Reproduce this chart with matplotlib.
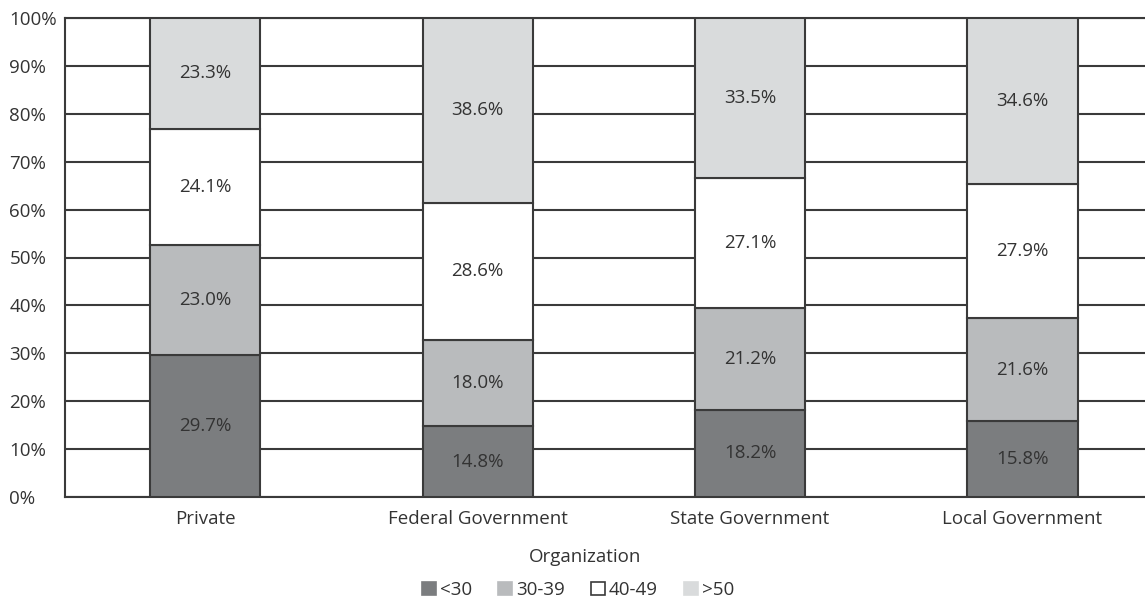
import numpy as np
import matplotlib.pyplot as plt
from matplotlib.patches import Patch

plt.rcParams['font.family'] = ['Open Sans', 'DejaVu Sans']

categories = ["Private", "Federal Government", "State Government", "Local Government"]
age_groups = ["<30", "30-39", "40-49", ">50"]
under_30 = [29.7, 14.8, 18.2, 15.8]
age_30_39 = [23.0, 18.0, 21.2, 21.6]
age_40_49 = [24.1, 28.6, 27.1, 27.9]
over_50 = [23.3, 38.6, 33.5, 34.6]

series = [under_30, age_30_39, age_40_49, over_50]
colors = ["#7b7d7f", "#b9bbbd", "#ffffff", "#d9dbdc"]
edge = "#3a3a3a"
text_color = "#333333"
fs = 13.5

fig = plt.figure(figsize=(11.45, 6.01), dpi=100)
ax = fig.add_axes([65 / 1145, 104 / 601, 1 - 65 / 1145, (497 - 18) / 601])

x = np.arange(len(categories))
width = 0.405
bottom = np.zeros(len(categories))
for vals, col in zip(series, colors):
    vals = np.array(vals)
    ax.bar(x, vals, width, bottom=bottom, color=col, edgecolor=edge,
           linewidth=1.5, zorder=3)
    for xi, b, v in zip(x, bottom, vals):
        ax.text(xi, b + v / 2, f"{v:.1f}%", ha="center", va="center",
                fontsize=fs, color=text_color, zorder=4)
    bottom += vals

# horizontal grid lines behind the bars
ax.set_ylim(0, 100)
ax.set_xlim(-0.515, 3.45)
ax.set_yticks(np.arange(0, 101, 10))
ax.set_yticklabels([f"{t}%" for t in range(0, 101, 10)])
ax.yaxis.grid(True, color=edge, linewidth=1.5, zorder=0)
ax.set_axisbelow(True)
for lab in ax.get_yticklabels():
    lab.set_horizontalalignment("left")
ax.tick_params(axis="y", length=0, pad=40, labelsize=fs, labelcolor=text_color)
ax.tick_params(axis="x", length=0, pad=9, labelsize=fs, labelcolor=text_color)
ax.set_xticks(x)
ax.set_xticklabels(categories)

ax.spines["right"].set_visible(False)
for side in ["left", "top", "bottom"]:
    ax.spines[side].set_color(edge)
    ax.spines[side].set_linewidth(1.5)

fig.text(585 / 1145, 1 - 557 / 601, "Organization", ha="center", va="center",
         fontsize=fs, color=text_color)
handles = [Patch(facecolor=c, edgecolor=(edge if c == "#ffffff" else c), linewidth=1.2)
           for c in colors]
fig.legend(handles, age_groups, loc="center", bbox_to_anchor=(578 / 1145, 1 - 590 / 601),
           ncol=4, frameon=False, fontsize=fs, handlelength=0.75, handleheight=0.75,
           handletextpad=0.2, columnspacing=1.4, labelcolor=text_color,
           borderpad=0.2)

fig.savefig("out.png", dpi=100)
